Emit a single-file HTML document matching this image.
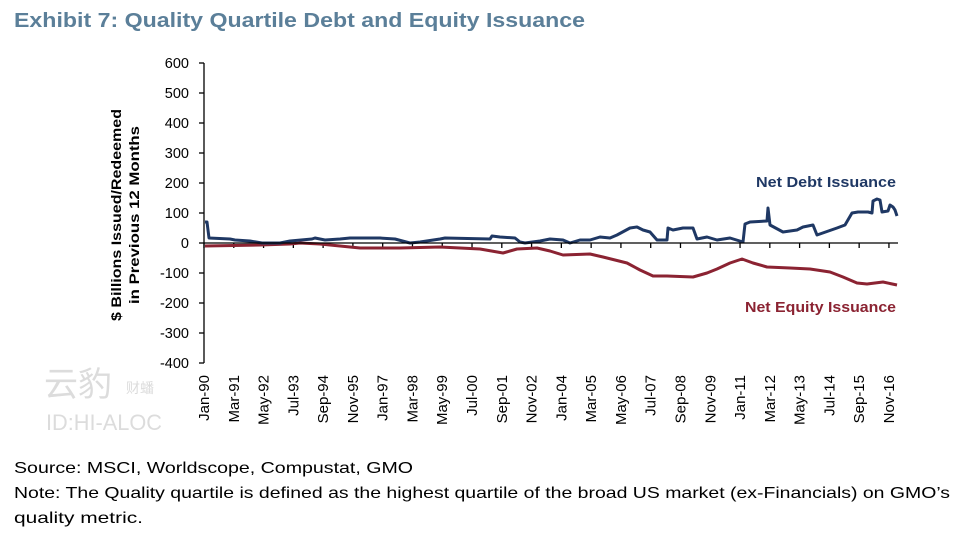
<!DOCTYPE html>
<html><head><meta charset="utf-8"><style>
body{margin:0;background:#fff;width:964px;height:547px;overflow:hidden;font-family:"Liberation Sans",sans-serif}
</style></head><body>
<svg width="964" height="547" xmlns="http://www.w3.org/2000/svg" style="position:absolute;left:0;top:0">
<text x="14" y="27" textLength="571" lengthAdjust="spacingAndGlyphs" font-family="Liberation Sans, sans-serif" font-weight="bold" font-size="20" fill="#5b7f99">Exhibit 7: Quality Quartile Debt and Equity Issuance</text>
<!-- watermark -->
<text x="44" y="396" font-family="Noto Sans CJK SC, sans-serif" font-size="34" fill="#dcdcdc">云豹</text>
<text x="126" y="393" font-family="Noto Sans CJK SC, sans-serif" font-size="14" fill="#dcdcdc">财蟠</text>
<text x="46" y="430" textLength="116" lengthAdjust="spacingAndGlyphs" font-family="Liberation Sans, sans-serif" font-size="22" fill="#dcdcdc">ID:HI-ALOC</text>
<!-- y axis -->
<g font-family="Liberation Sans, sans-serif" font-size="14.5" fill="#000" text-anchor="end">
<text x="189" y="68">600</text><text x="189" y="98">500</text><text x="189" y="128">400</text>
<text x="189" y="158">300</text><text x="189" y="188">200</text><text x="189" y="218">100</text>
<text x="189" y="248">0</text><text x="189" y="278">-100</text><text x="189" y="308">-200</text>
<text x="189" y="338">-300</text><text x="189" y="368">-400</text>
</g>
<g stroke="#000" stroke-width="1.3">
<line x1="204" y1="63" x2="204" y2="363"/>
<line x1="199" y1="63" x2="204" y2="63"/><line x1="199" y1="93" x2="204" y2="93"/><line x1="199" y1="123" x2="204" y2="123"/><line x1="199" y1="153" x2="204" y2="153"/><line x1="199" y1="183" x2="204" y2="183"/><line x1="199" y1="213" x2="204" y2="213"/><line x1="199" y1="243" x2="204" y2="243"/><line x1="199" y1="273" x2="204" y2="273"/><line x1="199" y1="303" x2="204" y2="303"/><line x1="199" y1="333" x2="204" y2="333"/><line x1="199" y1="363" x2="204" y2="363"/>
</g>
<text transform="translate(121,215) rotate(-90)" text-anchor="middle" textLength="212" lengthAdjust="spacingAndGlyphs" font-family="Liberation Sans, sans-serif" font-weight="bold" font-size="14">$ Billions Issued/Redeemed</text>
<text transform="translate(139,215) rotate(-90)" text-anchor="middle" textLength="178" lengthAdjust="spacingAndGlyphs" font-family="Liberation Sans, sans-serif" font-weight="bold" font-size="14">in Previous 12 Months</text>
<g id="xt" font-family="Liberation Sans, sans-serif" font-size="15" fill="#000" text-anchor="end"></g>
<g id="xtk" stroke="#000" stroke-width="1.3"></g>
<!-- series -->
<polyline fill="none" stroke="#8b2332" stroke-width="3" stroke-linejoin="round" points="205,246 260,245 290,244 300,243 320,244 340,246 360,248 400,248 440,247 480,249 503,253 517,249 537,248 550,251 563,255 590,254 603,257 627,263 640,270 653,276 667,276 693,277 707,273 717,269 730,263 742,259 753,263 767,267 790,268 810,269 830,272 843,277 857,283 867,284 883,282 897,285"/>
<polyline fill="none" stroke="#1f3864" stroke-width="3" stroke-linejoin="round" points="205,222 207,222 209,238 230,239 235,240 250,241 262,243 280,243 290,241 312,239 315,238 325,240 340,239 350,238 380,238 395,239 410,243 420,242 440,239 445,238 490,239 492,236 500,237 515,238 520,242 525,243 540,241 550,239 563,240 570,243 580,240 590,240 600,237 610,238 617,235 630,228 637,227 643,230 650,232 657,240 667,240 668,228 673,230 683,228 693,228 697,239 707,237 717,240 730,238 743,242 745,224 750,222 767,221 768,208 770,225 783,232 797,230 803,227 813,225 817,235 837,228 845,225 852,213 858,212 868,212 872,213 873,201 877,199 880,200 882,212 888,211 890,205 893,207 895,210 897,216"/>
<line x1="204" y1="243" x2="898" y2="243" stroke="#000" stroke-width="1.3"/>
<text x="756" y="187" textLength="140" lengthAdjust="spacingAndGlyphs" font-family="Liberation Sans, sans-serif" font-weight="bold" font-size="15" fill="#1f3864">Net Debt Issuance</text>
<text x="745" y="312" textLength="151" lengthAdjust="spacingAndGlyphs" font-family="Liberation Sans, sans-serif" font-weight="bold" font-size="15" fill="#8b2332">Net Equity Issuance</text>
<g font-family="Liberation Sans, sans-serif" font-size="16" fill="#000">
<text x="14" y="473" textLength="399" lengthAdjust="spacingAndGlyphs">Source: MSCI, Worldscope, Compustat, GMO</text>
<text x="14" y="498" textLength="936" lengthAdjust="spacingAndGlyphs">Note: The Quality quartile is defined as the highest quartile of the broad US market (ex-Financials) on GMO’s</text>
<text x="14" y="523" textLength="129" lengthAdjust="spacingAndGlyphs">quality metric.</text>
</g>
</svg>
<script>
var labs=["Jan-90","Mar-91","May-92","Jul-93","Sep-94","Nov-95","Jan-97","Mar-98","May-99","Jul-00","Sep-01","Nov-02","Jan-04","Mar-05","May-06","Jul-07","Sep-08","Nov-09","Jan-11","Mar-12","May-13","Jul-14","Sep-15","Nov-16"];
var g=document.getElementById('xt'),t=document.getElementById('xtk'),ns="http://www.w3.org/2000/svg";
labs.forEach(function(l,i){var x=204+i*29.78;
var e=document.createElementNS(ns,'text');e.setAttribute('transform','translate('+(x+5)+',375) rotate(-90)');e.textContent=l;g.appendChild(e);
var k=document.createElementNS(ns,'line');k.setAttribute('x1',x);k.setAttribute('x2',x);k.setAttribute('y1',243);k.setAttribute('y2',248);t.appendChild(k);});
</script>
</body></html>
